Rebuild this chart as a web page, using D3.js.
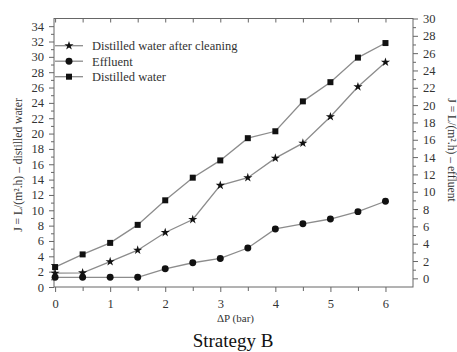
<!DOCTYPE html>
<html>
<head>
<meta charset="utf-8">
<script src="https://cdn.jsdelivr.net/npm/d3@7"></script>
<style>
  body { margin: 0; background: #fff; }
  svg { font-family: "Liberation Serif", "Times New Roman", serif; }
  .axis text { fill: #333; font-size: 12.5px; font-family: "Liberation Serif", "Times New Roman", serif; }
  .axis line { stroke: #666; }
  .axis path { display: none; }
</style>
</head>
<body>
<div class="container"></div>
<script>
const pressure = [0, 0.5, 1, 1.5, 2, 2.5, 3, 3.5, 4, 4.5, 5, 5.5, 6];
const afterCleaning = [1.8, 1.85, 3.3, 4.8, 7.1, 8.8, 13.25, 14.25, 16.8, 18.75, 22.2, 26.1, 29.3];
const distilled = [2.6, 4.25, 5.75, 8.1, 11.3, 14.25, 16.5, 19.4, 20.3, 24.2, 26.7, 29.9, 31.8];
const effluent = [0.12, 0.12, 0.12, 0.12, 1.1, 1.8, 2.3, 3.5, 5.7, 6.3, 6.85, 7.7, 8.9];

const xTicks = [0, 1, 2, 3, 4, 5, 6];
const leftTicks = d3.range(0, 35, 2);
const rightTicks = d3.range(0, 31, 2);

const series = [
  { name: "Distilled water after cleaning", values: afterCleaning, axis: "left", symbol: d3.symbolStar, size: 26 },
  { name: "Effluent", values: effluent, axis: "right", symbol: d3.symbolCircle, size: 38 },
  { name: "Distilled water", values: distilled, axis: "left", symbol: d3.symbolSquare, size: 36 },
];

const width = 457;
const height = 352;
const plot = { left: 54, right: 413, top: 18.5, bottom: 287 };

const svg = d3
  .select(".container")
  .append("svg")
  .attr("width", width)
  .attr("height", height);

const xScale = d3.scaleLinear().domain([-0.02, 6.5]).range([plot.left, plot.right]);
const yLeft = d3.scaleLinear().domain([0, 35]).range([plot.bottom, plot.top]);
const yRight = d3.scaleLinear().domain([-1, 30]).range([plot.bottom, plot.top]);

// minor ticks first, then major with labels
svg.append("g").attr("class", "axis")
  .attr("transform", `translate(${plot.left},0)`)
  .call(d3.axisLeft(yLeft).tickValues(d3.range(1, 35, 2)).tickSize(3).tickFormat(""));
svg.append("g").attr("class", "axis")
  .attr("transform", `translate(${plot.left},0)`)
  .call(d3.axisLeft(yLeft).tickValues(leftTicks).tickSize(5).tickPadding(5).tickFormat(d3.format("d")));

svg.append("g").attr("class", "axis")
  .attr("transform", `translate(${plot.right},0)`)
  .call(d3.axisRight(yRight).tickValues(d3.range(1, 30, 2)).tickSize(3).tickFormat(""));
svg.append("g").attr("class", "axis")
  .attr("transform", `translate(${plot.right},0)`)
  .call(d3.axisRight(yRight).tickValues(rightTicks).tickSize(5).tickPadding(5).tickFormat(d3.format("d")));

svg.append("g").attr("class", "axis")
  .attr("transform", `translate(0,${plot.bottom})`)
  .call(d3.axisBottom(xScale).tickValues(d3.range(0.5, 6.5, 1)).tickSize(4).tickFormat(""));
svg.append("g").attr("class", "axis")
  .attr("transform", `translate(0,${plot.bottom})`)
  .call(d3.axisBottom(xScale).tickValues(xTicks).tickSize(5).tickPadding(7).tickFormat(d3.format("d")));

// top mirror ticks pointing inward
svg.append("g").attr("class", "axis")
  .attr("transform", `translate(0,${plot.top})`)
  .call(d3.axisTop(xScale).tickValues(d3.range(0, 6.5, 0.5)).tickSize(-4).tickFormat(""));

svg.append("rect")
  .attr("x", plot.left).attr("y", plot.top)
  .attr("width", plot.right - plot.left).attr("height", plot.bottom - plot.top)
  .attr("fill", "none").attr("stroke", "#666");

series.forEach((s) => {
  const y = s.axis === "left" ? yLeft : yRight;
  const line = d3.line().x((d, i) => xScale(pressure[i])).y((d) => y(d));
  svg.append("path")
    .datum(s.values)
    .attr("d", line)
    .attr("fill", "none")
    .attr("stroke", "#8c8c8c")
    .attr("stroke-width", 1.3);
  svg.append("g")
    .selectAll("path")
    .data(s.values)
    .enter()
    .append("path")
    .attr("d", d3.symbol().type(s.symbol).size(s.size))
    .attr("transform", (d, i) => `translate(${xScale(pressure[i])},${y(d)})`)
    .attr("fill", "#111");
});

// legend
const legend = svg.append("g").attr("transform", "translate(55,45.7)");
series.forEach((s, i) => {
  const row = legend.append("g").attr("transform", `translate(0,${i * 15.5})`);
  row.append("line").attr("x1", 0).attr("x2", 28).attr("stroke", "#8c8c8c").attr("stroke-width", 1.3);
  row.append("path").attr("d", d3.symbol().type(s.symbol).size(s.size))
    .attr("transform", "translate(14,0)").attr("fill", "#111");
  row.append("text").attr("x", 37).attr("y", 4.3)
    .attr("font-size", "12.5px").attr("fill", "#333").text(s.name);
});

svg.append("text")
  .attr("transform", "translate(22,165) rotate(-90)")
  .attr("text-anchor", "middle").attr("font-size", "11.6px").attr("fill", "#333")
  .text("J = L/(m\u00b2.h) \u2013 distilled water");

svg.append("text")
  .attr("transform", "translate(448,150) rotate(90)")
  .attr("text-anchor", "middle").attr("font-size", "11.6px").attr("fill", "#333")
  .text("J = L/(m\u00b2.h) \u2013 effluent");

svg.append("text")
  .attr("x", 235.5).attr("y", 322)
  .attr("text-anchor", "middle").attr("font-size", "11px").attr("fill", "#333")
  .text("\u0394P (bar)");

svg.append("text")
  .attr("x", 233).attr("y", 346.5)
  .attr("text-anchor", "middle").attr("font-size", "19px").attr("fill", "#111")
  .text("Strategy B");
</script>
</body>
</html>
